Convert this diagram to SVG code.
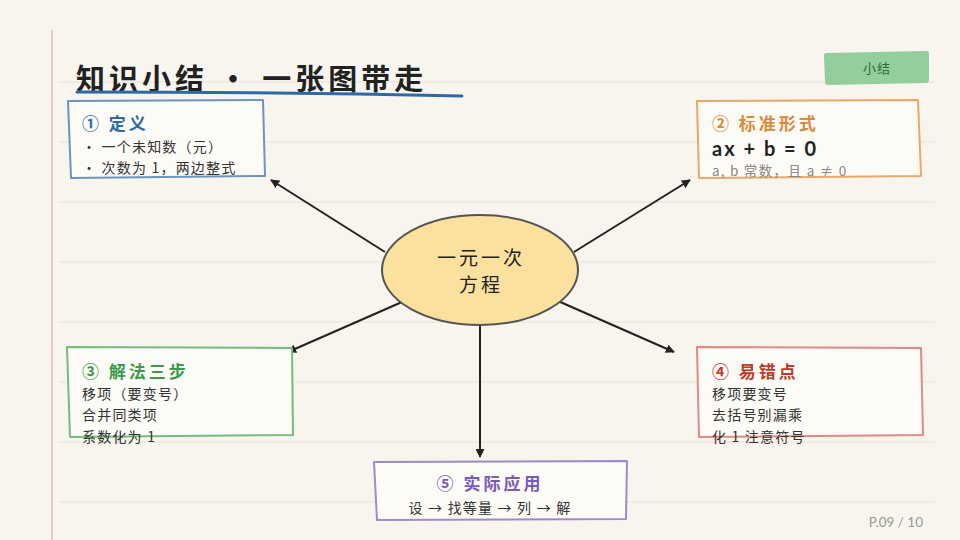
<svg xmlns="http://www.w3.org/2000/svg" width="960" height="540" viewBox="0 0 960 540">
<defs>
<marker id="ah" viewBox="0 0 10 10" refX="9" refY="5" markerWidth="9" markerHeight="9" markerUnits="userSpaceOnUse" orient="auto">
<path d="M0,0 L10,5 L0,10 z" fill="#222"/>
</marker>
<style>
.rule{stroke:#e8e2d6;stroke-width:1}
.box{fill:#fdfbf6;stroke-width:2;stroke-linejoin:round}
.t{font-family:"Noto Sans CJK SC","Noto Sans",sans-serif}
.ttl{font-size:17px;font-weight:700;letter-spacing:3px}
.body{font-size:14px;fill:#333;letter-spacing:1.2px}
.conn{stroke:#222;stroke-width:2;fill:none;marker-end:url(#ah)}
</style>
</defs>
<rect width="960" height="540" fill="#f8f5ee"/>
<g id="paper">
<line x1="52" y1="30" x2="52" y2="540" stroke="#e8b8b0" stroke-width="1.5"/>
<line class="rule" x1="58" y1="82" x2="935" y2="82"/>
<line class="rule" x1="58" y1="142" x2="935" y2="142"/>
<line class="rule" x1="58" y1="202" x2="935" y2="202"/>
<line class="rule" x1="58" y1="262" x2="935" y2="262"/>
<line class="rule" x1="58" y1="322" x2="935" y2="322"/>
<line class="rule" x1="58" y1="382" x2="935" y2="382"/>
<line class="rule" x1="58" y1="442" x2="935" y2="442"/>
<line class="rule" x1="58" y1="502" x2="935" y2="502"/>
</g>
<g id="title">
<text class="t" x="76" y="90" font-size="29" font-weight="700" fill="#222" letter-spacing="4">知识小结 · 一张图带走</text>
<path d="M77,92 Q270,92 462,96" stroke="#2f6aa8" stroke-width="3" fill="none" stroke-linecap="round"/>
</g>
<g id="tag">
<path d="M826,53 L927,51 Q929,51 929,54 L929,80 Q929,83 926,83 L828,85 Q825,85 825,82 L824,56 Q824,53 826,53 z" fill="#93cf9d"/>
<text class="t" x="877" y="73" font-size="13" fill="#2d6a38" text-anchor="middle" letter-spacing="1">小结</text>
</g>
<g id="connectors">
<line class="conn" x1="385" y1="252" x2="271" y2="180"/>
<line class="conn" x1="574" y1="252" x2="690" y2="180"/>
<line class="conn" x1="402" y1="302" x2="288" y2="352"/>
<line class="conn" x1="558" y1="301" x2="674" y2="352"/>
<line class="conn" x1="480" y1="325" x2="480" y2="457"/>
</g>
<g id="center">
<ellipse cx="480" cy="270" rx="98" ry="55" fill="#fbe09e" stroke="#555" stroke-width="2"/>
<text class="t" x="481" y="265" font-size="19" fill="#222" text-anchor="middle" letter-spacing="3">一元一次</text>
<text class="t" x="481" y="292" font-size="19" fill="#222" text-anchor="middle" letter-spacing="3">方程</text>
</g>
<g id="n1">
<path class="box" d="M68,101 L263,100 L265,176 L71,178 z" stroke="#6b93c4"/>
<text class="t ttl" x="82" y="130" fill="#2f6aa8">① 定义</text>
<text class="t body" x="82" y="152">• 一个未知数（元）</text>
<text class="t body" x="82" y="173">• 次数为 1，两边整式</text>
</g>
<g id="n2">
<path class="box" d="M697,101 L918,100 L921,176 L699,178 z" stroke="#e8a868"/>
<text class="t ttl" x="712" y="130" fill="#d98a3a">② 标准形式</text>
<text x="712" y="156" font-family="Lato,'Noto Sans',sans-serif" font-size="20" font-weight="700" fill="#222" letter-spacing="2">ax + b = 0</text>
<text class="t" x="712" y="176" font-size="13.5" fill="#888" letter-spacing="1.2">a, b 常数，且 a ≠ 0</text>
</g>
<g id="n3">
<path class="box" d="M67,347 L292,348 L293,435 L70,437 z" stroke="#72bd7e"/>
<text class="t ttl" x="82" y="378" fill="#3a9a4a">③ 解法三步</text>
<text class="t body" x="82" y="399">移项（要变号）</text>
<text class="t body" x="82" y="420">合并同类项</text>
<text class="t body" x="82" y="442">系数化为 1</text>
</g>
<g id="n4">
<path class="box" d="M697,347 L921,348 L923,435 L699,437 z" stroke="#e08a88"/>
<text class="t ttl" x="712" y="378" fill="#c0392b">④ 易错点</text>
<text class="t body" x="712" y="399">移项要变号</text>
<text class="t body" x="712" y="420">去括号别漏乘</text>
<text class="t body" x="712" y="442">化 1 注意符号</text>
</g>
<g id="n5">
<path class="box" d="M374,462 L627,461 L626,519 L377,520 z" stroke="#9d8bcb"/>
<text class="t ttl" x="490" y="490" fill="#7a5ab8" text-anchor="middle">⑤ 实际应用</text>
<text class="t body" x="490" y="513" text-anchor="middle">设 → 找等量 → 列 → 解</text>
</g>
<text id="page" x="923" y="527" font-family="Lato,'Noto Sans',sans-serif" font-size="13.5" fill="#999" text-anchor="end">P.09 / 10</text>
</svg>
